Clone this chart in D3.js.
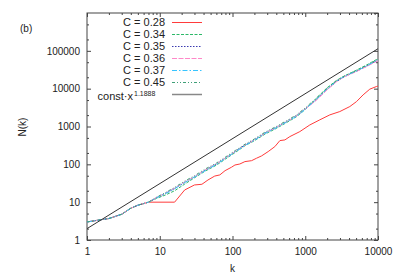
<!DOCTYPE html>
<html>
<head>
<meta charset="utf-8">
<script src="https://cdn.jsdelivr.net/npm/d3@7"></script>
<style>
  body { margin: 0; background: #fff; }
  text { font-family: "Liberation Sans", Arial, sans-serif; fill: #222; }
  .tick line { stroke: #444; }
</style>
</head>
<body>
<div id="chart"></div>
<script>
// Data
var kValues = [1, 2, 3, 4, 5, 7, 9, 12, 16, 22, 30, 42, 60, 80, 110, 150, 200, 280, 400, 550, 750, 1000, 1400, 2000, 2700, 3500, 5000, 7000, 10000];

var n034 = [3.0, 3.7, 4.8, 6.9, 8.3, 10, 12.5, 15.5, 20, 30, 44, 66, 95, 138, 208, 315, 420, 630, 890, 1260, 1790, 2800, 5400, 10600, 16600, 22000, 30500, 42500, 62000];
var n035 = [3.0, 3.7, 4.8, 6.9, 8.3, 10, 13, 17, 23, 33, 47, 70, 102, 148, 222, 330, 445, 675, 950, 1350, 1900, 2950, 5000, 9600, 15500, 21000, 28500, 39500, 57000];
var n036 = [3.0, 3.7, 4.8, 6.9, 8.3, 10, 13.2, 17.5, 23.5, 34, 47, 71, 101, 147, 220, 326, 440, 665, 940, 1330, 1870, 2900, 4800, 9300, 15400, 21000, 28200, 38500, 55000];
var n037 = [3.0, 3.7, 4.8, 6.9, 8.3, 10, 13, 17, 22.5, 33, 46, 68, 99, 144, 216, 320, 432, 655, 925, 1310, 1840, 2850, 5100, 9900, 16000, 21600, 29000, 40200, 58000];
var n045 = [3.0, 3.7, 4.8, 6.9, 8.3, 10, 13.5, 18, 24.5, 36, 50, 75, 108, 156, 234, 345, 468, 710, 1000, 1420, 2000, 3100, 5500, 10300, 16400, 22000, 29800, 41500, 60500];

var redK = [1, 2, 3, 4, 5, 7, 16, 22, 30, 38, 46, 57, 67, 79, 97, 108, 126, 148, 183, 214, 251, 309, 382, 448, 525, 614, 843, 1156, 1585, 2178, 2985, 4100, 5070, 6240, 7710, 9530, 10000];
var redN = [3.0, 3.7, 4.8, 6.9, 8.3, 10, 10, 21, 28.5, 29.7, 38.6, 49, 52.5, 68, 84, 96, 102, 118, 125, 145, 167, 217, 294, 424, 442, 541, 733, 1100, 1500, 2030, 2480, 3370, 4560, 6850, 9700, 11400, 11700];

var fitK = [1, 10000];
var fitN = [2, 113770];

var xTicks = [1, 10, 100, 1000, 10000];
var yTicks = [1, 10, 100, 1000, 10000, 100000];

var svgWidth = 395;
var svgHeight = 276;
var margin = { top: 13, right: 17, bottom: 36, left: 87 };
var width = svgWidth - margin.left - margin.right;
var height = svgHeight - margin.top - margin.bottom;

var svg = d3.select("#chart")
  .append("svg")
  .attr("width", svgWidth)
  .attr("height", svgHeight);

var chartGroup = svg.append("g")
  .attr("transform", `translate(${margin.left}, ${margin.top})`);

var x = d3.scaleLog().domain([1, 10000]).range([0, width]);
var y = d3.scaleLog().domain([1, 1000000]).range([height, 0]);

// minor ticks
var xMinor = [];
for (var d = 1; d < 10000; d *= 10) {
  for (var m = 2; m <= 9; m++) xMinor.push(d * m);
}
var yMinor = [];
for (var d2 = 1; d2 < 1000000; d2 *= 10) {
  yMinor.push(d2 * 2);
  yMinor.push(d2 * 5);
}

function addAxis(axis, tx, ty) {
  var g = chartGroup.append("g")
    .attr("transform", `translate(${tx}, ${ty})`)
    .call(axis);
  g.select(".domain").remove();
  return g;
}

// bottom / top
addAxis(d3.axisBottom(x).tickValues(xTicks).tickSize(-4).tickPadding(8).tickFormat(d3.format("d")), 0, height)
  .selectAll("text").attr("font-size", 10).attr("fill", "#222");
addAxis(d3.axisBottom(x).tickValues(xMinor).tickSize(-2).tickFormat(""), 0, height);
addAxis(d3.axisTop(x).tickValues(xTicks).tickSize(-4).tickFormat(""), 0, 0);
addAxis(d3.axisTop(x).tickValues(xMinor).tickSize(-2).tickFormat(""), 0, 0);

// left / right
addAxis(d3.axisLeft(y).tickValues(yTicks).tickSize(-4).tickPadding(7).tickFormat(d3.format("d")), 0, 0)
  .selectAll("text").attr("font-size", 10).attr("fill", "#222");
addAxis(d3.axisLeft(y).tickValues(yMinor).tickSize(-2).tickFormat(""), 0, 0);
addAxis(d3.axisRight(y).tickValues(yTicks.concat([1000000])).tickSize(-4).tickFormat(""), width, 0);
addAxis(d3.axisRight(y).tickValues(yMinor).tickSize(-2).tickFormat(""), width, 0);

chartGroup.append("rect")
  .attr("width", width)
  .attr("height", height)
  .attr("fill", "none")
  .attr("stroke", "#444")
  .attr("stroke-width", 1);

// series
var series = [
  { label: "C = 0.28", k: redK, n: redN, color: "#ff3b3b", dash: null },
  { label: "C = 0.34", k: kValues, n: n034, color: "#2cb868", dash: "3,1.5" },
  { label: "C = 0.35", k: kValues, n: n035, color: "#3a3ab0", dash: "1.5,1.5" },
  { label: "C = 0.36", k: kValues, n: n036, color: "#ff88c8", dash: "5,1.5" },
  { label: "C = 0.37", k: kValues, n: n037, color: "#38c4ff", dash: "5,2,1.5,2" },
  { label: "C = 0.45", k: kValues, n: n045, color: "#40a078", dash: "3,2,1,2,1,2" },
  { label: "const·x", k: fitK, n: fitN, color: "#333", dash: null }
];

var line = d3.line()
  .x(p => x(p[0]))
  .y(p => y(p[1]));

var plot = chartGroup.append("g");
series.forEach(function (s) {
  plot.append("path")
    .datum(s.k.map((k, i) => [k, s.n[i]]))
    .attr("d", line)
    .attr("fill", "none")
    .attr("stroke", s.color)
    .attr("stroke-width", 1)
    .attr("stroke-dasharray", s.dash);
});

// legend
var legend = svg.append("g");
series.forEach(function (s, i) {
  var ly = 22.5 + i * 12;
  if (i === series.length - 1) {
    legend.append("text")
      .attr("x", 133)
      .attr("y", ly + 5)
      .attr("text-anchor", "end")
      .attr("font-size", 11)
      .text(s.label);
    legend.append("text")
      .attr("x", 134)
      .attr("y", ly + 1)
      .attr("font-size", 7)
      .text("1.1888");
  } else {
    legend.append("text")
      .attr("x", 165)
      .attr("y", ly)
      .attr("dy", "0.35em")
      .attr("text-anchor", "end")
      .attr("font-size", 11)
      .text(s.label);
  }
  legend.append("line")
    .attr("x1", 172).attr("x2", 202)
    .attr("y1", ly).attr("y2", ly)
    .attr("stroke", i === series.length - 1 ? "#888" : s.color)
    .attr("stroke-width", i === series.length - 1 ? 1.5 : 1)
    .attr("stroke-dasharray", s.dash);
});

// labels
svg.append("text")
  .attr("x", 20)
  .attr("y", 28)
  .attr("dy", "0.35em")
  .attr("font-size", 10)
  .text("(b)");

svg.append("text")
  .attr("transform", "translate(22, 127) rotate(-90)")
  .attr("text-anchor", "middle")
  .attr("dy", "0.35em")
  .attr("font-size", 10)
  .text("N(k)");

svg.append("text")
  .attr("x", margin.left + width / 2)
  .attr("y", 268)
  .attr("dy", "0.35em")
  .attr("text-anchor", "middle")
  .attr("font-size", 10)
  .text("k");
</script>
</body>
</html>
